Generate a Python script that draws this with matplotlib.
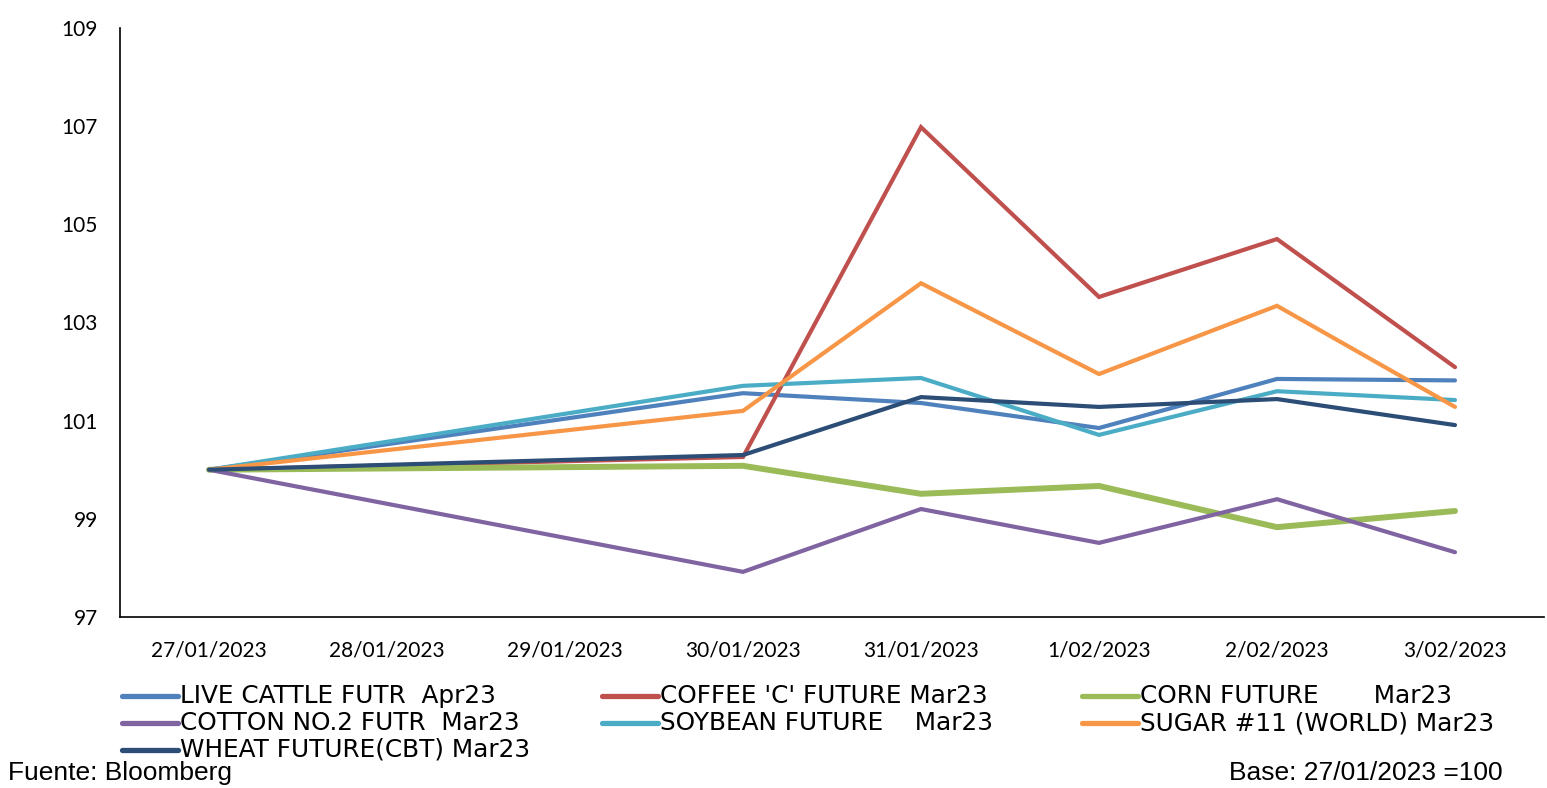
import matplotlib
matplotlib.use("Agg")
import matplotlib.pyplot as plt
from matplotlib.lines import Line2D
import numpy as np

dates = ["27/01/2023", "28/01/2023", "29/01/2023", "30/01/2023",
         "31/01/2023", "1/02/2023", "2/02/2023", "3/02/2023"]

live_cattle = [100.0, None, None, 101.56, 101.36, 100.85, 101.85, 101.82]
coffee      = [100.0, None, None, 100.26, 106.98, 103.52, 104.70, 102.09]
corn        = [100.0, None, None, 100.08, 99.51, 99.67, 98.83, 99.16]
cotton      = [100.0, None, None, 97.92, 99.20, 98.51, 99.40, 98.32]
soybean     = [100.0, None, None, 101.71, 101.87, 100.71, 101.60, 101.42]
sugar       = [100.0, None, None, 101.20, 103.80, 101.95, 103.34, 101.28]
wheat       = [100.0, None, None, 100.30, 101.48, 101.28, 101.44, 100.91]

labels = ["LIVE CATTLE FUTR  Apr23", "COFFEE 'C' FUTURE Mar23", "CORN FUTURE       Mar23",
          "COTTON NO.2 FUTR  Mar23", "SOYBEAN FUTURE    Mar23", "SUGAR #11 (WORLD) Mar23",
          "WHEAT FUTURE(CBT) Mar23"]
series = [live_cattle, coffee, corn, cotton, soybean, sugar, wheat]
colors = ["#4F81BD", "#C0504D", "#9BBB59", "#8064A2", "#4BACC6", "#F79646", "#2C4D75"]
widths = [3.0, 3.0, 4.3, 3.0, 3.0, 3.0, 3.0]

W, H = 1547, 788
fig = plt.figure(figsize=(W/100, H/100), dpi=100)
ax = fig.add_axes([120/W, 1-617/H, (1544-120)/W, (617-28)/H])

for vals, c, lw in zip(series, colors, widths):
    xs = [i for i, v in enumerate(vals) if v is not None]
    ys = [v for v in vals if v is not None]
    ax.plot(xs, ys, color=c, lw=lw, solid_capstyle="round", solid_joinstyle="miter")

ax.set_xlim(-0.5, len(dates) - 0.5)
ax.set_ylim(97, 109)
ax.set_yticks(np.arange(97, 110, 2))
ax.set_xticks(range(len(dates)))
ax.set_xticklabels(dates)
for s in ["top", "right"]:
    ax.spines[s].set_visible(False)
for s in ["left", "bottom"]:
    ax.spines[s].set_color("black")
    ax.spines[s].set_linewidth(1.2)
ax.tick_params(axis="both", length=0, labelsize=15, labelcolor="black")
ax.tick_params(axis="y", pad=16)
ax.tick_params(axis="x", pad=17)
for t in ax.get_xticklabels() + ax.get_yticklabels():
    t.set_fontfamily("Lato")

# legend laid out manually in 3 columns
col_x = [122, 602, 1082]
row_y = [696, 723, 750]
for i, (lab, c) in enumerate(zip(labels, colors)):
    r, k = divmod(i, 3)
    x0 = col_x[k]
    y0 = row_y[r]
    fig.add_artist(Line2D([x0/W, (x0+56)/W], [1-y0/H, 1-y0/H], color=c, lw=3.8,
                          solid_capstyle="round"))
    fig.text((x0+58)/W, 1-y0/H, lab, fontsize=17.8, family="DejaVu Sans",
             va="center", ha="left", color="black")

fig.text(8/W, 1-773/H, "Fuente: Bloomberg", fontsize=19, family="Liberation Sans",
         va="center", ha="left")
fig.text(1503/W, 1-773/H, "Base: 27/01/2023 =100", fontsize=19, family="Liberation Sans",
         va="center", ha="right")

fig.savefig("out.png", dpi=100)
